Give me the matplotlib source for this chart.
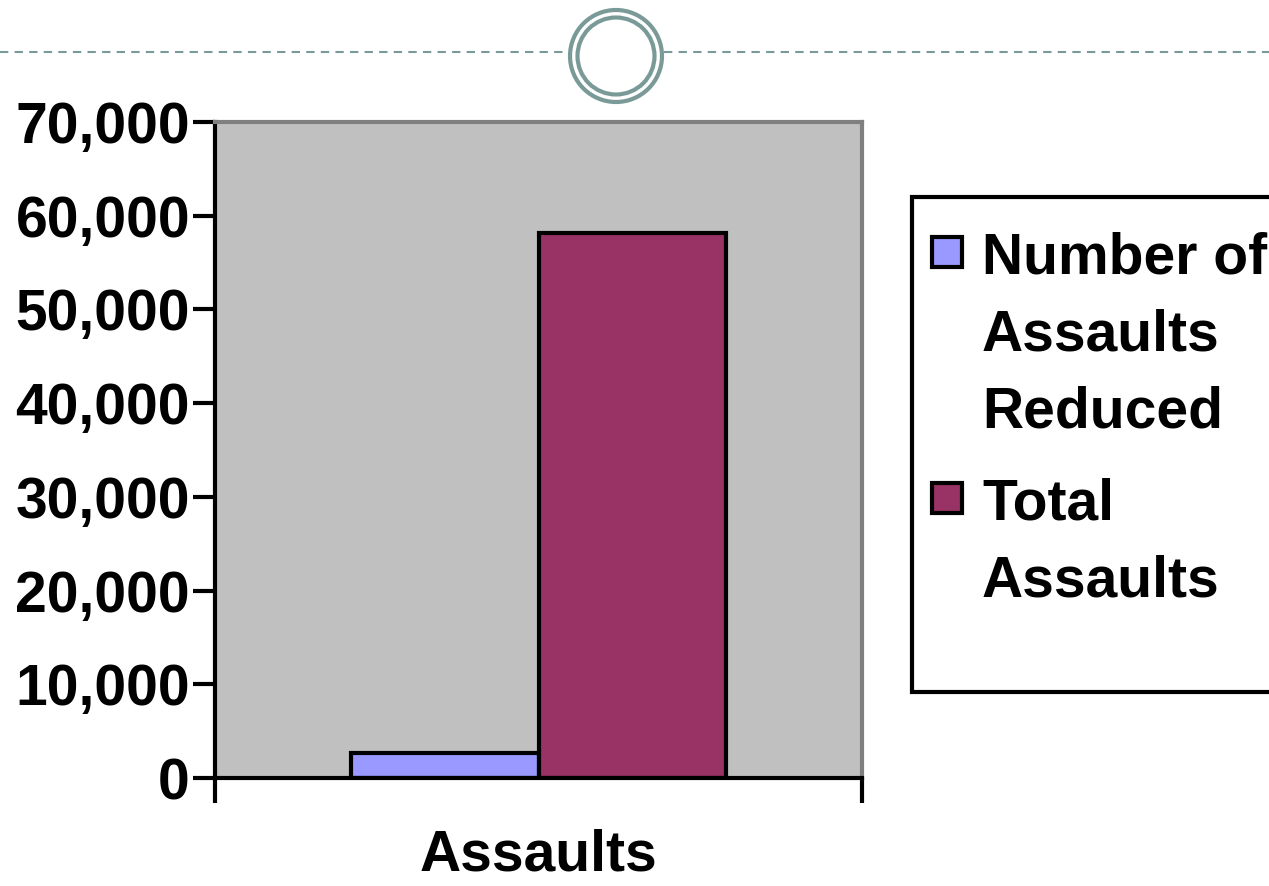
import numpy as np
import matplotlib.pyplot as plt
from matplotlib.patches import Rectangle, Circle
from matplotlib.lines import Line2D
from matplotlib.ticker import FuncFormatter

plt.rcParams['font.family'] = ['Liberation Sans', 'DejaVu Sans']
plt.rcParams['font.weight'] = 'bold'

categories = ["Assaults"]
series_names = ["Number of\nAssaults\nReduced", "Total\nAssaults"]
reduced = [2700]
total = [58200]
colors = ["#9999FF", "#993366"]
yticks = [0, 10000, 20000, 30000, 40000, 50000, 60000, 70000]

W, H = 1269, 886
fig = plt.figure(figsize=(W/100, H/100), dpi=100)
ax = fig.add_axes([215/W, 1-778/H, (862-215)/W, (778-122)/H])
ax.set_facecolor("#C0C0C0")

x = np.arange(len(categories))
w = 0.29
b1 = ax.bar(x - w/2, reduced, w, color=colors[0], edgecolor="black", linewidth=3)
b2 = ax.bar(x + w/2, total, w, color=colors[1], edgecolor="black", linewidth=3)

ax.set_xlim(-0.5, 0.5)
ax.set_ylim(0, 70000)
ax.set_yticks(yticks)
ax.yaxis.set_major_formatter(FuncFormatter(lambda v, p: f"{int(v):,}"))
ax.tick_params(axis='y', labelsize=41, width=3, length=16, direction='out', pad=2)
ax.set_xticks([-0.5, 0.5])
ax.set_xticklabels(["", ""])
ax.tick_params(axis='x', width=3, length=18, direction='out')
ax.set_xlabel(categories[0], fontsize=41, fontweight='bold', labelpad=15)

for s in ['top', 'right']:
    ax.spines[s].set_color("#808080")
    ax.spines[s].set_linewidth(3)
for s in ['left', 'bottom']:
    ax.spines[s].set_color("black")
    ax.spines[s].set_linewidth(3)

# legend box, runs off the right edge
fig.patches.append(Rectangle((912/W, 1-692/H), 400/W, 495/H,
                             transform=fig.transFigure, facecolor="white",
                             edgecolor="black", linewidth=3, clip_on=False))
# legend entries: small square aligned with first text line
entry_top = [237, 483]
for name, col, top in zip(series_names, colors, entry_top):
    fig.patches.append(Rectangle((932/W, 1-(top+30)/H), 30/W, 30/H,
                                 transform=fig.transFigure, facecolor=col,
                                 edgecolor="black", linewidth=3))
    fig.text(982/W, 1-(top-6)/H, name, fontsize=41, fontweight='bold',
             va='top', ha='left', linespacing=1.55)

# decorative top line with circles
teal = "#7A9A98"
fig.add_artist(Line2D([0, 568/W], [1-52/H]*2, transform=fig.transFigure,
                      color=teal, linewidth=1.5, linestyle=(0, (4, 3))))
fig.add_artist(Line2D([664/W, 1], [1-52/H]*2, transform=fig.transFigure,
                      color=teal, linewidth=1.5, linestyle=(0, (4, 3))))
for r, fc in [(0.46, "white"), (0.385, "none")]:
    fig.add_artist(Circle((6.16, (H-56)/100), r, transform=fig.dpi_scale_trans,
                          facecolor=fc, edgecolor=teal, linewidth=3))

fig.savefig("out.png", dpi=100)
